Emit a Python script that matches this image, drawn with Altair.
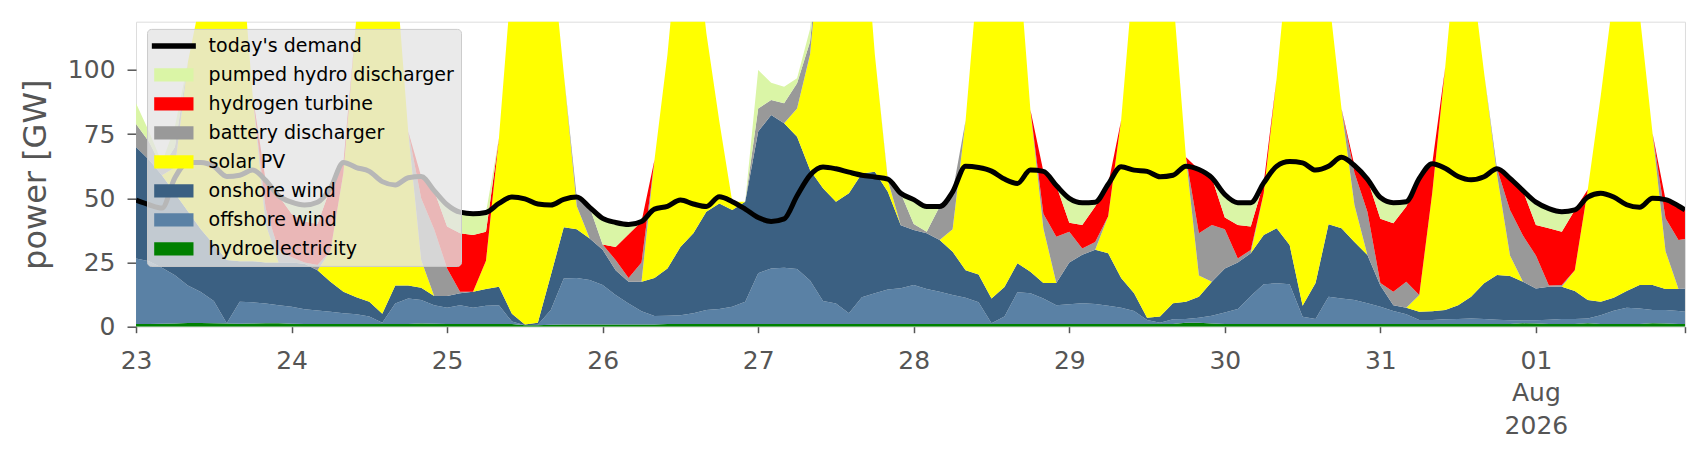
import altair as alt
import pandas as pd

# ---- time axis: every 2 hours from 2026-07-23 00:00 plus the final hour ----
hours = list(range(0, 240, 2)) + [239]

# ---- generation by source [GW] ----
hydroelectricity = [
    1.0, 1.0, 1.1, 1.2, 1.4, 1.4, 1.3, 1.2, 1.1, 1.2, 1.3, 1.3, 1.1, 1.0, 1.0, 1.0, 1.0, 1.0, 1.0, 1.0,
    1.0, 1.0, 1.2, 1.1, 1.0, 1.0, 1.0, 1.0, 1.0, 1.0, 0.6, 0.6, 0.8, 0.9, 0.9, 0.9, 0.9, 0.9, 0.9, 0.9,
    0.9, 1.0, 1.0, 1.0, 1.0, 1.0, 1.0, 1.0, 1.0, 1.0, 1.0, 1.0, 1.0, 1.0, 1.0, 1.0, 1.0, 1.0, 1.0, 1.0,
    1.0, 1.0, 1.0, 1.0, 1.0, 1.0, 1.0, 1.0, 1.0, 1.0, 1.0, 1.0, 1.0, 1.0, 1.0, 1.0, 1.0, 1.0, 1.0, 1.0,
    1.0, 1.5, 1.5, 1.2, 1.0, 1.0, 1.0, 1.0, 1.0, 1.0, 1.0, 1.0, 1.0, 1.0, 1.0, 1.0, 1.0, 1.0, 1.0, 1.0,
    1.0, 1.0, 1.0, 1.0, 1.0, 1.0, 1.0, 1.3, 1.2, 1.0, 1.0, 1.0, 1.3, 1.0, 1.0, 1.0, 1.0, 1.3, 1.2, 1.0,
    1.0,
]
offshore_wind = [
    25.6, 24.5, 21.9, 18.8, 14.6, 12.1, 8.7, 0.1, 8.6, 8.3, 7.7, 7.1, 6.7, 5.8, 5.3, 4.8, 4.2, 3.8, 3.0, 0.5,
    8.0, 10.0, 9.2, 7.3, 6.4, 7.4, 6.4, 7.2, 7.4, 1.0, 0.0, 0.2, 5.7, 17.9, 18.1, 17.3, 15.3, 11.4, 8.1, 5.1,
    3.3, 3.3, 3.5, 4.2, 5.5, 5.9, 6.8, 8.7, 19.8, 21.7, 22.0, 21.5, 17.0, 9.0, 8.0, 4.2, 10.5, 12.0, 13.5, 14.0,
    15.2, 13.7, 12.6, 11.3, 10.3, 8.5, 0.3, 3.0, 12.4, 12.0, 10.0, 7.4, 7.7, 8.1, 7.8, 7.2, 6.4, 5.1, 1.6, 0.5,
    1.9, 1.5, 2.0, 3.1, 4.5, 5.9, 11.0, 15.5, 15.9, 15.5, 2.9, 2.0, 10.7, 10.0, 9.4, 8.1, 6.8, 5.1, 3.8, 1.6,
    1.6, 1.9, 2.0, 2.2, 2.0, 1.7, 1.5, 1.2, 1.3, 1.7, 2.0, 2.0, 1.9, 3.5, 5.2, 6.4, 6.1, 5.2, 5.3, 5.1,
    4.8,
]
onshore_wind = [
    43.4, 39.5, 36.0, 32.0, 29.0, 24.5, 22.0, 24.7, 15.8, 16.0, 16.0, 16.6, 17.2, 17.7, 15.7, 11.7, 8.4, 6.7, 5.7, 3.5,
    7.0, 5.0, 4.8, 3.6, 4.6, 4.6, 6.2, 6.5, 7.2, 3.0, 0.3, 0.7, 13.5, 19.9, 19.0, 16.2, 13.8, 9.7, 8.5, 11.5,
    14.8, 18.4, 26.5, 31.2, 38.3, 41.1, 37.7, 39.0, 55.2, 59.8, 56.2, 51.5, 43.0, 43.9, 39.7, 46.8, 48.2, 47.4, 38.1, 24.5,
    21.5, 21.7, 20.2, 16.9, 10.7, 10.8, 9.7, 11.5, 11.3, 8.4, 6.0, 8.6, 16.3, 18.9, 21.2, 20.4, 11.6, 6.9, 0.9, 2.5,
    6.2, 6.7, 8.2, 13.2, 17.2, 18.1, 16.6, 19.2, 21.4, 15.3, 4.3, 14.0, 28.2, 27.3, 22.6, 18.8, 8.2, 2.3, 2.6, 3.2,
    3.4, 3.6, 5.4, 8.5, 13.9, 17.4, 17.2, 15.0, 12.4, 12.9, 12.6, 10.9, 7.2, 5.2, 5.1, 6.5, 9.1, 9.7, 8.2, 8.6,
    9.1,
]
solar_pv = [
    0, 0, 0, 10, 58, 90, 143, 139, 128.5, 64.5, 15, 0, 0, 0, 0, 12, 46.4, 108.5, 150.3, 165,
    126, 60, 10.8, 0, 0, 0, 0, 11, 58, 132, 174.1, 183.5, 130, 60, 9, 0, 0, 0, 0, 0,
    46, 83.3, 129, 123.6, 69.6, 32, 3.2, 0, 0, 0, 0, 11, 45, 106.1, 151.3, 148, 110.3, 45.6, 4.4, 0,
    0, 0, 0, 8.8, 58.3, 119.7, 169, 169.5, 125.3, 63.1, 21.3, 0, 0, 0, 0, 14.4, 61.4, 127, 171.5, 166,
    120.9, 56.3, 8.2, 0, 0, 0, 0, 16.3, 58.7, 118.2, 171.8, 168, 90.1, 46.7, 14.4, 0, 0, 0, 0, 6.5,
    46, 94.5, 146.6, 128.3, 82.1, 39.1, 8, 0, 0, 0, 0, 8.1, 43, 80.2, 118.7, 156.1, 105.8, 59.1, 14.7, 0,
    0,
]
battery_discharger = [
    9, 7, 3, 8, 0, 0, 0, 0, 0, 0, 6, 5, 2, 0.5, 2, 0, 0, 0, 0, 0,
    0, 0, 24, 26, 10.7, 0.6, 0, 0, 0, 0, 0, 0, 0, 0, 3.5, 12.1, 2, 4, 1.5, 7.5,
    0, 0, 0, 0, 0, 0, 0, 0, 9, 5.8, 7.8, 9.8, 5, 0, 0, 0, 0, 0, 0.5, 12.5,
    2.3, 0.6, 13, 14.5, 0, 0, 0, 0, 0, 0, 5.7, 18, 12, 2.5, 3, 0, 0, 0, 0, 0,
    0, 0, 16.5, 22.1, 15.3, 1.6, 1.3, 0, 0, 0, 0, 0, 0, 0, 12.6, 16.9, 1, 5.2, 10.1, 0,
    0, 0, 0, 0, 0, 2.3, 17.8, 18, 12.8, 0.4, 0.6, 0, 0, 0, 0, 0, 0, 0, 12.8, 19.1,
    19.3,
]
hydrogen_turbine = [
    0, 0, 0, 0, 0, 0, 0, 0, 0, 0, 11, 21, 17, 16, 16, 24.5, 4, 0, 0, 0,
    0, 0, 8.5, 15, 16.3, 22.8, 22.1, 11.3, 0, 0, 0, 0, 0, 0, 0, 0, 0, 5, 17, 16,
    0, 0, 0, 0, 0, 0, 0, 0, 0, 0, 0, 0, 0, 0, 0, 0, 0, 0, 0, 0,
    0, 0, 0, 0, 0, 0, 0, 0, 0, 0, 16.5, 20, 3.5, 9.1, 13.8, 12.5, 0, 0, 0, 0,
    0, 0, 24.8, 18.4, 4.5, 13, 9.1, 4, 0, 0, 0, 0, 0, 0, 2.8, 12.7, 25, 26.7, 29.3, 45.5,
    11.5, 0, 0, 0, 0, 0, 12.3, 17.5, 11.9, 22.3, 20.8, 23.5, 0, 0, 0, 0, 0, 0, 7.3, 13.2,
    11.3,
]
pumped_hydro_discharger = [
    8, 4, 2, 8, 0, 0, 0, 0, 0, 0, 0, 0, 4.5, 6.4, 8.5, 0, 0, 0, 0, 0,
    0, 0, 0, 0, 8.5, 8.2, 8.3, 7.5, 0, 0, 0, 0, 0, 0, 0, 0, 10.2, 9.6, 3.8, 0,
    0, 0, 0, 0, 0, 0, 0, 0, 15, 6.7, 6.5, 2, 5, 0, 0, 0, 0, 0, 0, 0,
    9.5, 9.8, 0, 0, 0, 0, 0, 0, 0, 0, 0, 0, 9.5, 8.7, 1.7, 0, 0, 0, 0, 0,
    0, 0, 0, 0, 9, 8.7, 9.3, 0, 0, 0, 0, 0, 0, 0, 0, 0, 8.3, 8, 1.9, 0,
    0, 0, 0, 0, 0, 0, 0, 0, 8.9, 7.7, 7.8, 0, 0, 0, 0, 0, 0, 0, 0, 0,
    0,
]
todays_demand = [
    49.3, 47.5, 46.2, 58, 64, 64, 62.5, 58.5, 59, 61, 57, 51, 48.5, 47.4, 48.5, 54, 64, 62, 60.5, 56.5,
    55.2, 58, 58.5, 53, 47.5, 44.6, 44, 44.5, 48, 50.5, 49.8, 47.8, 47.4, 49.6, 50.5, 46.5, 42.2, 40.6, 39.8, 41,
    45.8, 46.9, 49.3, 47.8, 46.8, 50.6, 48.7, 45.8, 42.5, 41, 42, 51, 59, 62.2, 61.5, 60.2, 59, 58.3, 57.5, 52,
    49.5, 46.8, 46.8, 52.5, 62.5, 62, 60.6, 57.5, 55.8, 61, 60.5, 55, 50, 48.3, 48.5, 55.5, 62.3, 61, 60.5, 58.4,
    59, 62.5, 61.2, 58, 51.5, 48.3, 48.3, 56, 62.5, 64.3, 63.8, 61, 62.5, 66, 62.8, 57.5, 50.3, 48.3, 48.7, 57.8,
    63.5, 61.7, 58.5, 57.2, 58.4, 61.5, 57.8, 53, 48.5, 46, 44.8, 45.5, 50.5, 52, 50.5, 47.5, 46.5, 50, 49.5, 47,
    45.5,
]

legend_order = ["today's demand", "pumped hydro discharger", "hydrogen turbine",
                "battery discharger", "solar PV", "onshore wind", "offshore wind",
                "hydroelectricity"]
legend_colors = ["#000000", "#daf5a6", "#ff0000", "#999999", "#ffff00",
                 "#3b6082", "#5a81a5", "#008000"]
# bottom to top
stack_series = [
    ("hydroelectricity", hydroelectricity),
    ("offshore wind", offshore_wind),
    ("onshore wind", onshore_wind),
    ("solar PV", solar_pv),
    ("battery discharger", battery_discharger),
    ("hydrogen turbine", hydrogen_turbine),
    ("pumped hydro discharger", pumped_hydro_discharger),
]

start = pd.Timestamp("2026-07-23 00:00:00")
times = [(start + pd.Timedelta(hours=h)).strftime("%Y-%m-%dT%H:%M:%SZ") for h in hours]

rows = []
for rank, (name, vals) in enumerate(stack_series):
    for t, v in zip(times, vals):
        rows.append({"time": t, "source": name, "value": v, "rank": rank})
areas_df = pd.DataFrame(rows)
demand_df = pd.DataFrame({"time": times, "demand": todays_demand})

FONT = "DejaVu Sans"
GREY = "#555555"

tick_values = [alt.DateTime(year=2026, month=7, date=d, hours=0, utc=True) for d in range(23, 32)]
tick_values += [alt.DateTime(year=2026, month=8, date=1, hours=0, utc=True),
                alt.DateTime(year=2026, month=8, date=1, hours=23, utc=True)]
x_domain = [alt.DateTime(year=2026, month=7, date=23, hours=0, utc=True),
            alt.DateTime(year=2026, month=8, date=1, hours=23, utc=True)]

label_expr = ("utcFormat(datum.value, '%H') == '23' ? '' : "
              "(utcFormat(datum.value, '%d') == '01' ? ['01', 'Aug', '2026'] : utcFormat(datum.value, '%d'))")

x_axis = alt.Axis(values=tick_values, labelExpr=label_expr, title=None, tickSize=6,
                  tickWidth=1.5, tickColor=GREY, labelPadding=15.8, labelFontSize=25,
                  labelLineHeight=32.5, labelOverlap=False, labelBound=False,
                  labelFlush=False, domain=False, grid=False, labelColor=GREY, labelFont=FONT)
y_axis = alt.Axis(values=[0, 25, 50, 75, 100], title="power [GW]", titleFontSize=32,
                  titleFontWeight="normal", titleColor=GREY, titleFont=FONT, titlePadding=15,
                  tickSize=9, tickWidth=1.5, tickColor=GREY, labelPadding=12, labelFontSize=25,
                  labelColor=GREY, labelFont=FONT, domain=False, grid=False)

x_enc = alt.X("time:T", scale=alt.Scale(type="utc", domain=x_domain), axis=x_axis)
y_scale = alt.Scale(domain=[0, 118.8], nice=False, zero=True)
color_scale = alt.Scale(domain=legend_order, range=legend_colors)

# legend swatches: a thick line for demand, wide rectangles for the sources
rect_path = "M-1,-0.68L3,-0.68L3,0.68L-1,0.68Z"
line_path = "M-1.24,-0.28L3.24,-0.28L3.24,0.28L-1.24,0.28Z"
shape_scale = alt.Scale(domain=legend_order, range=[line_path] + [rect_path] * 7)

legend = alt.Legend(
    title=None, orient="none", legendX=11, legendY=7.2, direction="vertical",
    symbolSize=386, symbolStrokeWidth=0, symbolOpacity=1,
    labelFont=FONT, labelFontSize=19, labelColor="black", labelOffset=34.6,
    labelLimit=500, rowPadding=9, padding=7,
    fillColor="rgba(229,229,229,0.8)", strokeColor="#cccccc", cornerRadius=4,
)

areas = alt.Chart(areas_df).mark_area(clip=True, opacity=1, interpolate="linear").encode(
    x=x_enc,
    y=alt.Y("value:Q", stack="zero", scale=y_scale, axis=y_axis),
    color=alt.Color("source:N", scale=color_scale, legend=legend),
    order=alt.Order("rank:Q", sort="ascending"),
)
line = alt.Chart(demand_df).mark_line(clip=True, strokeWidth=5, interpolate="monotone").encode(
    x=x_enc,
    y=alt.Y("demand:Q", scale=y_scale, axis=y_axis),
    color=alt.value("black"),
)
# invisible points that only carry the shape legend (merged with the colour legend)
legend_layer = alt.Chart(areas_df).mark_point(filled=True, opacity=0, size=0).encode(
    x=x_enc,
    y=alt.Y("value:Q", scale=y_scale, axis=y_axis),
    color=alt.Color("source:N", scale=color_scale, legend=legend),
    shape=alt.Shape("source:N", scale=shape_scale, legend=legend),
)

chart = alt.layer(areas, line, legend_layer).properties(
    width=1549, height=305,
    padding={"left": 128, "top": 13.7, "right": 5, "bottom": 120},
    autosize=alt.AutoSizeParams(type="none"),
    background="white",
).configure_view(strokeWidth=0).configure(font=FONT)

chart.save("out.html", embed_options={"renderer": "svg", "actions": False})
